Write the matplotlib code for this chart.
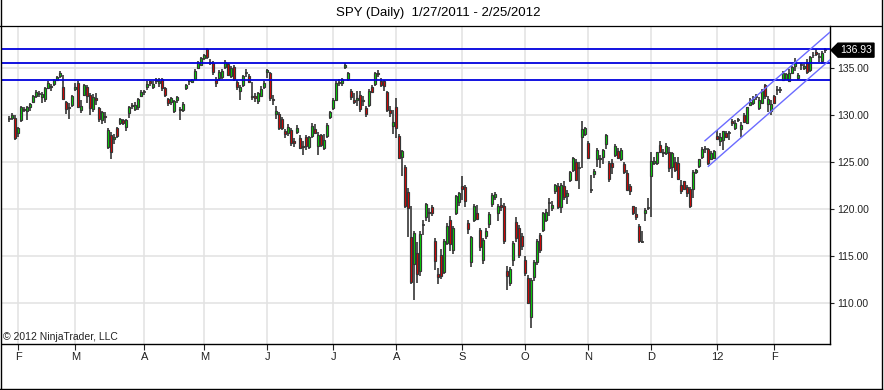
import matplotlib
matplotlib.use("Agg")
import matplotlib.pyplot as plt
from matplotlib.patches import Polygon
from matplotlib.lines import Line2D
import matplotlib.transforms as mtransforms

plt.rcParams['font.family'] = ['Liberation Sans', 'DejaVu Sans']

# ---------------- data (SPY daily, 1/26/2011 .. 2/24/2012) ----------------
opens = [
    129.6, 129.7, 129.7, 128.1,
    129.5, 130.7, 130.5, 130.9, 131.4, 132.0, 132.3, 131.9, 131.7, 132.9, 133.1, 133.3, 133.8, 134.2, 133.0, 131.4, 130.8, 131.1, 132.8,
    133.4, 130.6, 132.2, 133.0, 132.2, 130.7, 131.8, 130.8, 129.5, 129.9, 126.6, 127.9, 127.5, 128.6, 129.2, 129.5, 128.8, 130.2, 131.1, 130.7, 130.9, 132.1, 132.5,
    133.0, 133.6, 133.0, 133.6, 133.4, 133.9, 132.9, 131.7, 131.4, 130.5, 131.6, 130.7, 130.6, 132.9, 133.6, 133.5, 133.9, 135.0, 135.4, 136.1,
    137.0, 135.6, 135.6, 133.9, 134.0, 134.1, 135.1, 135.5, 134.2, 135.1, 133.5, 132.6, 133.2, 134.5, 134.2, 132.0, 132.1, 131.5, 132.1, 133.0, 134.6,
    134.5, 131.7, 130.1, 130.1, 129.6, 128.3, 128.1, 128.4, 127.3, 128.2, 127.6, 126.6, 127.7, 126.6, 127.8, 128.5, 126.7, 127.9, 126.5, 127.8, 129.8, 130.8,
    131.6, 133.4, 133.4, 135.1, 133.9, 132.6, 131.6, 131.6, 132.2, 131.5, 130.8, 131.1, 133.0, 133.3, 134.5, 133.7, 133.6, 132.5, 130.6, 128.9,
    130.9, 127.8, 125.6, 124.5, 121.8, 117.1, 114.2, 115.3, 113.4, 118.3, 119.2, 119.7, 120.2, 116.6, 113.1, 115.1, 113.3, 116.4, 118.9, 115.7, 119.6, 120.8, 122.5,
    122.4, 118.5, 114.4, 118.9, 119.6, 117.8, 114.6, 117.2, 118.4, 120.6, 121.3, 119.6, 120.5, 120.4, 113.4, 112.2, 114.6, 118.6, 118.0, 117.2, 114.6,
    112.7, 108.5, 112.8, 114.4, 117.3, 117.8, 118.9, 120.7, 120.1, 121.9, 122.5, 120.2, 122.5, 121.4, 123.1, 124.2, 125.0, 124.4, 127.7, 128.0, 127.1,
    122.1, 123.8, 125.3, 125.3, 125.6, 126.9, 124.9, 124.9, 125.8, 126.2, 125.4, 124.8, 123.9, 122.5, 120.3, 119.5, 118.2, 116.5, 119.6, 120.1, 123.5,
    124.9, 124.9, 126.8, 126.0, 126.0, 126.1, 124.5, 125.0, 124.9, 122.6, 123.0, 122.4, 122.2, 122.2, 124.0, 124.6, 125.6, 126.4, 126.4, 125.4, 125.5,
    127.8, 127.3, 127.4, 128.15, 128.1, 129.4, 128.7, 129.5, 128.5, 130.0, 129.2, 131.1, 131.3, 131.9, 130.75, 131.35, 133.2, 131.2, 130.5, 132.0,
    132.7, 132.7, 133.8, 133.9, 133.7, 134.5, 135.2, 134.0, 135.3, 135.0, 135.6, 134.8, 136.4, 136.7, 136.2, 135.8, 136.9,
]
highs = [
    129.9, 130.2, 130.0, 128.8,
    131.0, 130.9, 131.0, 131.3, 132.2, 132.7, 132.6, 132.5, 133.0, 133.6, 133.3, 133.9, 134.2, 134.7, 134.3, 131.5, 131.3, 132.2, 133.4,
    133.6, 131.6, 133.3, 133.2, 132.4, 132.3, 132.4, 130.9, 130.5, 130.3, 128.6, 128.2, 128.0, 128.8, 129.7, 129.6, 129.6, 131.0, 131.3, 131.4, 131.8, 132.7, 132.7,
    133.6, 133.7, 133.6, 134.0, 134.0, 134.0, 133.0, 131.8, 131.9, 131.6, 132.0, 130.9, 131.4, 133.3, 133.8, 133.9, 134.9, 135.8, 136.2, 136.5,
    137.2, 136.0, 135.8, 134.1, 134.8, 134.9, 135.9, 135.6, 135.2, 135.3, 133.8, 133.2, 134.3, 134.9, 134.4, 133.5, 132.4, 132.5, 133.1, 133.6, 134.9,
    134.6, 132.2, 131.0, 130.3, 129.8, 128.5, 129.1, 128.6, 127.6, 129.0, 127.9, 127.3, 127.9, 127.8, 129.2, 129.1, 128.2, 128.0, 128.0, 129.2, 130.5, 131.8,
    133.6, 133.9, 134.0, 135.6, 134.6, 132.8, 132.4, 132.6, 132.6, 132.0, 131.0, 132.8, 133.2, 134.6, 134.8, 134.0, 133.8, 132.6, 131.0, 130.6,
    131.8, 128.0, 126.3, 124.7, 122.3, 120.3, 117.7, 116.5, 117.7, 118.9, 120.7, 120.1, 120.5, 116.9, 113.8, 115.8, 116.8, 118.5, 119.3, 118.2, 121.5, 121.8, 123.5,
    122.6, 118.9, 117.2, 120.6, 120.5, 118.0, 116.9, 118.0, 119.7, 121.7, 121.8, 120.6, 121.2, 120.7, 114.0, 113.9, 116.6, 119.2, 118.3, 117.5, 115.0,
    113.0, 112.7, 114.6, 116.8, 117.5, 119.7, 120.0, 121.2, 120.9, 122.7, 122.8, 122.8, 123.0, 122.0, 124.1, 125.6, 125.3, 125.0, 129.4, 128.8, 127.3,
    123.6, 124.3, 126.5, 125.8, 126.4, 128.0, 125.1, 125.3, 126.9, 126.5, 126.5, 125.0, 124.2, 122.7, 120.4, 120.2, 118.4, 117.7, 120.1, 121.2, 126.1,
    125.6, 126.1, 127.3, 126.4, 127.0, 126.6, 126.1, 125.6, 125.6, 123.1, 123.0, 122.6, 122.4, 124.2, 124.3, 125.4, 126.6, 126.7, 126.5, 126.2, 126.3,
    128.4, 128.1, 128.3, 128.3, 128.3, 129.6, 129.5, 129.7, 129.3, 130.2, 130.9, 131.8, 132.0, 132.3, 131.9, 132.8, 133.3, 132.0, 131.6, 132.2,
    133.1, 133.0, 134.7, 134.5, 134.9, 135.2, 136.1, 134.5, 135.6, 135.5, 136.0, 136.3, 136.7, 137.0, 136.6, 136.8, 137.2,
]
lows = [
    129.3, 129.5, 127.4, 127.7,
    129.3, 130.3, 129.5, 130.5, 131.3, 131.8, 131.9, 131.3, 131.4, 132.8, 132.6, 133.1, 133.6, 134.0, 131.6, 130.1, 129.6, 130.9, 132.6,
    130.8, 130.2, 132.0, 131.3, 130.0, 130.3, 131.1, 129.3, 129.1, 129.2, 126.4, 125.3, 126.9, 127.6, 129.0, 129.0, 128.3, 129.7, 130.7, 130.5, 130.6, 131.9, 132.2,
    132.7, 133.1, 132.8, 133.3, 133.0, 132.6, 131.9, 131.0, 131.1, 130.2, 131.3, 129.5, 130.4, 132.7, 133.2, 133.4, 133.8, 134.9, 135.3, 135.9,
    136.0, 135.3, 134.3, 133.0, 133.6, 133.9, 134.9, 134.2, 134.0, 133.7, 132.7, 131.6, 133.0, 134.1, 133.4, 131.6, 131.4, 131.2, 131.9, 132.8, 134.0,
    131.5, 131.1, 129.6, 128.4, 128.4, 127.6, 127.8, 126.7, 126.6, 128.0, 126.4, 125.8, 126.3, 126.4, 127.6, 128.0, 125.8, 126.6, 126.3, 127.6, 129.6, 130.6,
    131.5, 133.1, 133.1, 134.9, 133.6, 131.6, 131.2, 131.0, 130.4, 131.0, 129.8, 130.9, 132.4, 133.1, 134.1, 133.0, 132.6, 130.3, 129.8, 128.0,
    127.6, 125.3, 123.5, 120.1, 117.0, 112.0, 110.3, 112.2, 112.9, 117.3, 118.8, 118.7, 119.3, 113.5, 112.1, 112.6, 113.1, 116.2, 115.6, 115.2, 119.4, 120.3, 121.0,
    120.2, 117.4, 113.9, 118.7, 118.9, 115.6, 114.2, 116.8, 118.0, 120.2, 121.0, 118.8, 119.8, 116.3, 111.4, 111.8, 114.0, 116.5, 114.8, 115.7, 112.9,
    109.9, 107.4, 112.4, 114.1, 115.4, 117.6, 118.7, 119.3, 119.8, 121.6, 120.0, 119.6, 121.0, 120.6, 122.9, 124.0, 123.0, 122.2, 124.4, 127.8, 125.3,
    121.7, 123.3, 124.5, 124.4, 124.8, 126.4, 122.9, 123.8, 125.6, 125.3, 125.1, 123.8, 122.0, 121.5, 119.4, 118.9, 116.4, 116.4, 118.8, 119.9, 119.2,
    124.7, 124.7, 126.0, 125.6, 125.8, 124.0, 123.3, 124.0, 123.1, 121.6, 122.1, 121.3, 120.1, 121.2, 123.8, 124.4, 125.4, 126.0, 124.7, 125.2, 125.3,
    127.4, 126.7, 126.3, 127.6, 127.4, 128.9, 128.4, 129.3, 127.7, 129.3, 129.1, 131.0, 131.1, 131.6, 130.6, 131.2, 131.7, 130.4, 130.0, 131.2,
    132.2, 132.4, 133.7, 133.8, 133.6, 134.4, 134.7, 133.8, 134.8, 134.8, 134.4, 134.6, 136.1, 136.3, 135.7, 135.5, 136.6,
]
closes = [
    129.6, 130.0, 127.6, 128.6,
    130.9, 130.6, 130.9, 131.2, 132.0, 132.5, 132.3, 132.3, 132.9, 133.4, 133.0, 133.8, 134.1, 134.5, 131.7, 130.7, 130.9, 132.0, 133.0,
    130.9, 131.0, 133.2, 132.0, 130.8, 131.9, 131.6, 129.6, 130.3, 129.8, 128.4, 126.1, 127.7, 127.8, 129.6, 129.2, 129.5, 130.9, 131.0, 131.1, 131.7, 132.5, 132.5,
    133.3, 133.4, 133.3, 133.8, 133.6, 132.9, 132.2, 131.3, 131.8, 131.5, 131.9, 130.6, 131.2, 133.2, 133.6, 133.8, 134.7, 135.6, 136.1, 136.4,
    136.2, 135.7, 134.6, 133.4, 134.6, 134.7, 135.7, 134.3, 135.0, 133.9, 133.0, 133.0, 134.2, 134.5, 133.5, 131.9, 131.8, 132.4, 132.8, 133.4, 134.8,
    131.8, 131.6, 130.5, 128.6, 128.7, 128.0, 128.8, 127.0, 127.1, 128.7, 126.5, 126.7, 126.7, 127.7, 128.9, 128.1, 127.9, 126.8, 127.4, 129.0, 130.3, 131.6,
    133.4, 133.5, 133.9, 135.3, 134.5, 131.9, 131.4, 131.8, 130.7, 131.6, 130.1, 132.6, 132.5, 134.5, 134.4, 133.2, 133.1, 130.6, 130.2, 129.3,
    128.7, 125.5, 126.2, 120.3, 120.1, 112.3, 117.5, 113.1, 117.4, 118.3, 120.6, 119.6, 119.6, 114.5, 112.8, 112.9, 116.6, 118.2, 116.3, 118.0, 121.4, 121.7, 122.2,
    120.9, 117.9, 117.0, 120.4, 119.0, 116.0, 116.7, 117.7, 119.5, 121.5, 121.6, 120.4, 120.2, 116.6, 112.9, 113.6, 116.4, 116.9, 115.1, 116.1, 113.2,
    110.0, 112.5, 114.4, 116.6, 115.7, 119.6, 119.7, 120.7, 120.5, 122.6, 120.2, 122.6, 121.3, 121.7, 124.0, 125.5, 123.1, 124.4, 128.5, 128.6, 125.5,
    122.1, 124.1, 126.3, 125.5, 126.3, 127.9, 123.2, 124.5, 126.7, 125.5, 126.3, 124.0, 122.1, 121.9, 119.6, 119.2, 116.6, 116.5, 119.9, 120.1, 125.1,
    125.1, 126.1, 126.1, 126.1, 126.7, 124.4, 126.0, 124.2, 123.2, 121.9, 122.2, 121.7, 120.35, 124.0, 124.2, 125.3, 126.4, 126.4, 124.9, 126.0, 126.2,
    127.45, 127.7, 128.3, 127.7, 128.1, 129.15, 129.2, 129.5, 129.0, 129.3, 130.85, 131.45, 131.7, 131.9, 131.6, 132.6, 132.0, 131.7, 131.2, 131.3,
    132.7, 132.7, 134.5, 134.4, 134.5, 135.1, 135.7, 134.3, 135.3, 135.2, 134.6, 136.2, 136.45, 136.5, 136.2, 136.6, 136.93,
]

month_labels = ['F', 'M', 'A', 'M', 'J', 'J', 'A', 'S', 'O', 'N', 'D', '12', 'F']
month_tick_bars = [3, 22, 45, 65, 86, 108, 129, 151, 172, 193, 214, 236, 255]
price_ticks = [110, 115, 120, 125, 130, 135]
level_lines = [137.02, 135.53, 133.72]
channel_upper = [(231.9, 127.30), (273.6, 138.86)]
channel_lower = [(233.0, 124.57), (273.6, 135.91)]
title = 'SPY (Daily)  1/27/2011 - 2/25/2012'

# ---------------- figure ----------------
W, H = 884, 390
fig = plt.figure(figsize=(W / 100, H / 100), dpi=100)
ax_left, ax_right, ax_top, ax_bottom = 2, 830, 26, 344
ax = fig.add_axes([ax_left / W, (H - ax_bottom) / H, (ax_right - ax_left) / W, (ax_bottom - ax_top) / H])

ymin, ymax = 105.67, 139.5
xmin, xmax = -2.43, 273.57
ax.set_xlim(xmin, xmax)
ax.set_ylim(ymin, ymax)

n = len(closes)
xs = list(range(n))
up_x, up_b, up_h = [], [], []
dn_x, dn_b, dn_h = [], [], []
dj_x, dj_b = [], []
for i in xs:
    o, c = opens[i], closes[i]
    if abs(c - o) < 0.04:
        dj_x.append(i); dj_b.append(c)
    elif c > o:
        up_x.append(i); up_b.append(o); up_h.append(c - o)
    else:
        dn_x.append(i); dn_b.append(c); dn_h.append(o - c)

wick_col = '#363636'
ax.vlines(xs, lows, highs, color=wick_col, linewidth=1.2, zorder=3)
bw = 0.68
ax.bar(up_x, up_h, bottom=up_b, width=bw, color='#00e000', edgecolor=wick_col, linewidth=0.85, zorder=4)
ax.bar(dn_x, dn_h, bottom=dn_b, width=bw, color='#e80000', edgecolor=wick_col, linewidth=0.85, zorder=4)
ax.hlines(dj_b, [x - bw / 2 - 0.15 for x in dj_x], [x + bw / 2 + 0.15 for x in dj_x], color=wick_col, linewidth=1.2, zorder=4)

for lv in level_lines:
    ax.axhline(lv, color='#0000dd', linewidth=1.3, zorder=5)

for ch in (channel_upper, channel_lower):
    (x0, y0), (x1, y1) = ch
    ax.plot([x0, x1], [y0, y1], color='#6b6bff', linewidth=1.0, zorder=6, clip_on=True)

# grid
ax.set_yticks(price_ticks)
ax.set_yticklabels(['%.2f' % v for v in price_ticks])
ax.set_xticks(month_tick_bars)
ax.set_xticklabels(month_labels)
ax.grid(True, color='#e2e2e2', linewidth=1.1, zorder=0)
ax.set_axisbelow(True)

ax.yaxis.tick_right()
ax.tick_params(axis='y', right=True, left=False, labelright=True, labelleft=False,
               length=3, width=0.8, pad=2, labelsize=7.5, colors='#222222')
ax.tick_params(axis='x', length=4, width=0.8, pad=2, labelsize=8, colors='#222222')
for lab in ax.get_xticklabels() + ax.get_yticklabels():
    lab.set_color('#222222')

for s in ('left', 'top'):
    ax.spines[s].set_visible(False)
for s in ('right', 'bottom'):
    ax.spines[s].set_color('black')
    ax.spines[s].set_linewidth(1.0)

# last price marker
last = closes[-1]
px_per_unit = (ax_bottom - ax_top) / (ymax - ymin)
hh = 7.0 / px_per_unit
trans = mtransforms.blended_transform_factory(fig.transFigure, ax.transData)
pts = [(831 / W, last), (838 / W, last + hh), (874 / W, last + hh), (874 / W, last - hh), (838 / W, last - hh)]
poly = Polygon(pts, closed=True, transform=trans, facecolor='black', edgecolor='black', clip_on=False, zorder=10)
fig.patches.append(poly)
fig.text(856 / W, last, '%.2f' % last, transform=trans, ha='center', va='center',
         color='white', fontsize=7.5, zorder=11)

# texts
fig.text(438 / W, (H - 13) / H, title, ha='center', va='center', fontsize=9.5, color='black')
fig.text(3 / W, (H - 340.5) / H, '\u00a9 2012 NinjaTrader, LLC', ha='left', va='baseline',
         fontsize=7.5, color='#222222')

# frame lines
fig.lines.append(Line2D([0, 881 / W], [(H - 25.5) / H] * 2, transform=fig.transFigure, color='black', linewidth=0.9))
fig.lines.append(Line2D([0.6 / W, 0.6 / W], [0, 1], transform=fig.transFigure, color='black', linewidth=1.0))
fig.lines.append(Line2D([0, 882 / W], [0.6 / H, 0.6 / H], transform=fig.transFigure, color='black', linewidth=1.0))
fig.lines.append(Line2D([881.5 / W, 881.5 / W], [0, 1], transform=fig.transFigure, color='black', linewidth=1.0))

fig.savefig('out.png', dpi=100, facecolor='white')
